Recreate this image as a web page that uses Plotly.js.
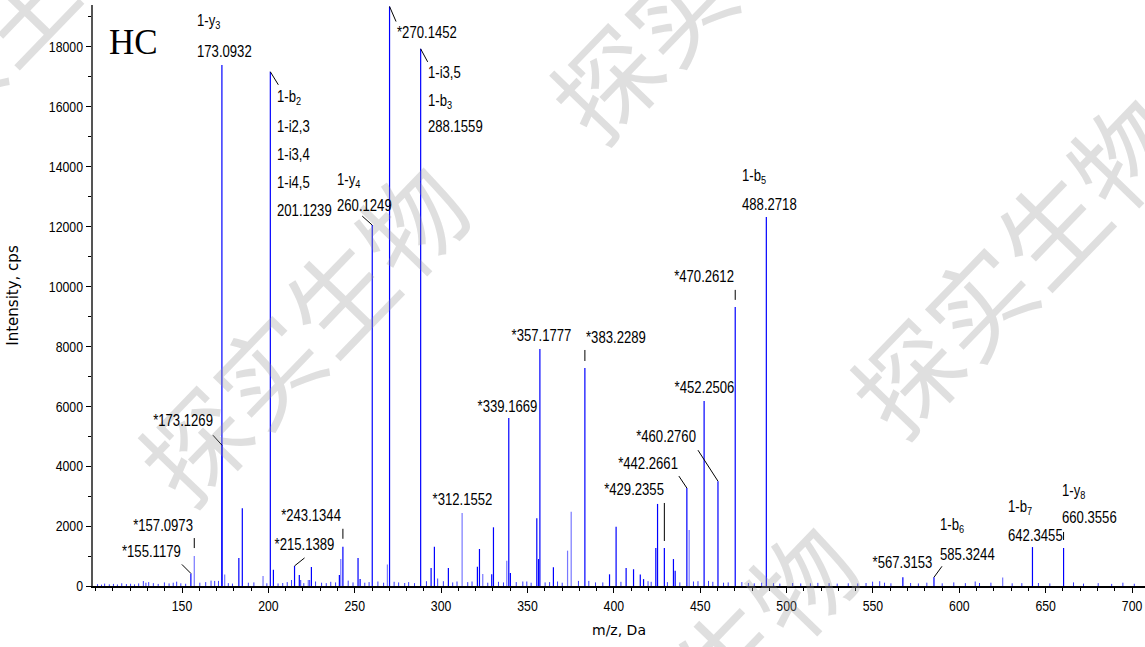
<!DOCTYPE html>
<html><head><meta charset="utf-8">
<script src="https://cdn.plot.ly/plotly-3.0.1.min.js"></script>
<style>html,body{margin:0;padding:0;background:#fff}#chart{width:1145px;height:647px}</style>
</head><body><div id="chart"></div>
<script>
// ---- data ----
const strongMz  = [155.1179,173.0932,173.1269,182.9,184.9,201.1239,202.9,215.1389,217.9,224.9,241.1,243.1344,251.9,253.1,260.1249,270.1452,288.1559,294.2,296.1,304.2,321.0,322.2,329.3,330.3,339.1669,340.1,355.4,356.4,357.1777,365.0,383.2289,397.5,401.3,407.1,411.4,415.3,417.2,424.3,425.3,429.2355,434.5,435.5,442.2661,452.2506,460.2760,470.2612,488.2718,567.3153,585.3244,642.3455,660.3556];
const strongInt = [420,17400,4700,935,2600,17170,540,670,370,635,370,1310,935,230,12050,19350,17935,600,1310,600,645,1235,390,1960,5610,430,2260,900,7915,630,7280,390,1980,600,560,380,230,1270,2740,1270,900,510,3270,6180,3500,9320,12325,290,290,1300,1270];
const lightMz  = [157.0973,174.7,196.9,223.1,241.9,268.9,312.1552,324.1,338.0,373.2,375.3,443.6,625.1];
const lightInt = [1000,380,330,200,900,720,2440,400,845,1180,2480,1870,280];
const noiseMz = [
 101.1,103.4,105.2,107.9,110.3,112.6,115.1,117.8,120.2,122.5,
 124.9,127.6,129.1,130.7,133.4,136.2,139.8,142.5,144.9,146.9,
 149.3,152.1,160.3,163.7,166.8,168.9,171.1,176.8,179.2,188.4,
 191.6,199.1,205.6,208.3,210.9,213.4,218.7,220.5,223.9,227.3,
 230.8,233.5,236.1,238.9,246.2,249.0,255.8,258.3,263.4,266.7,
 272.8,275.4,278.9,281.2,284.6,291.5,298.0,301.3,306.7,309.2,
 315.4,317.9,327.0,333.2,336.1,343.5,347.3,349.6,352.1,360.2,
 362.8,367.4,370.1,379.5,385.5,389.4,393.6,404.1,419.8,421.6,
 431.0,438.2,446.1,448.7,454.8,457.3,463.5,466.2,474.1,477.9,
 481.3,485.6,492.4,496.1,503.5,508.2,513.8,518.1,524.6,529.3,
 535.7,541.2,546.0,549.8,553.9,556.7,560.4,571.8,576.3,581.2,
 590.1,596.8,603.5,609.2,611.7,618.3,630.6,636.2,645.8,652.4,
 666.1,671.9,680.4,688.2,694.7,701.3];
const noiseInt = [
 60,45,80,55,70,50,90,65,75,55,
 85,165,110,130,95,70,120,85,110,145,
 90,75,110,130,180,170,170,95,80,110,
 120,90,85,100,130,200,200,95,200,150,
 110,95,140,120,180,120,110,130,150,110,
 140,120,100,130,95,160,250,160,120,150,
 130,150,110,140,120,130,150,150,110,120,
 130,150,110,170,170,120,120,140,160,140,
 130,120,150,160,170,140,110,120,130,100,
 90,110,95,80,100,85,90,105,95,80,
 90,85,100,145,160,110,90,100,85,110,
 90,120,95,150,100,110,90,95,100,85,
 120,80,95,70,110,75];

const labelMz  = [173.0932,201.1239,260.1249,270.1452,288.1559,488.2718,470.2612,452.2506,460.2760,442.2661,429.2355,357.1777,383.2289,339.1669,312.1552,243.1344,215.1389,173.1269,157.0973,155.1179,567.3153,585.3244,642.3455,660.3556];
const labelInt = [17400,17170,12050,19350,17935,12325,9320,6180,3500,3270,1270,7915,7280,5610,2440,1310,670,4700,1000,420,290,290,1300,1270];
const labelLines = [
 ['1-y<sub>3</sub>','173.0932'],
 ['1-b<sub>2</sub>','1-i2,3','1-i3,4','1-i4,5','201.1239'],
 ['1-y<sub>4</sub>','260.1249'],
 ['*270.1452'],
 ['1-i3,5','1-b<sub>3</sub>','288.1559'],
 ['1-b<sub>5</sub>','488.2718'],
 ['*470.2612'],
 ['*452.2506'],
 ['*460.2760'],
 ['*442.2661'],
 ['*429.2355'],
 ['*357.1777'],
 ['*383.2289'],
 ['*339.1669'],
 ['*312.1552'],
 ['*243.1344'],
 ['*215.1389'],
 ['*173.1269'],
 ['*157.0973'],
 ['*155.1179'],
 ['*567.3153'],
 ['1-b<sub>6</sub>','585.3244'],
 ['1-b<sub>7</sub>','642.3455'],
 ['1-y<sub>8</sub>','660.3556']
];
const xTickVals = [150,200,250,300,350,400,450,500,550,600,650,700];
const yTickVals = [0,2000,4000,6000,8000,10000,12000,14000,16000,18000];
const panelLabel = 'HC';
const xTitle = 'm/z, Da';
const yTitle = 'Intensity, cps';
const watermarkText = '探实生物';

// ---- layout helpers (positions / styles) ----
const L = 93, R = 1145, T = 5, B = 586;
const xRange = [98.46, 707.5];
const yRange = [0, 19400];
const pxPerMz = (R - L) / (xRange[1] - xRange[0]);
const px = x => (x - L) / (R - L);
const py = y => (B - y) / (B - T);
const NARROW = 0.82;

// per-label placement: anchor, dx (px), dy per line (px, up positive), leader [x0,y0,x1,y1] px up-positive
const labelPlace = [
 {a:'left',  dx:-27, dy:[43,13]},
 {a:'left',  dx:5,   dy:[-26,-55,-83,-111,-139], lead:[0,0,8,-13]},
 {a:'left',  dx:-37, dy:[45,20], lead:[-10,9,0,0]},
 {a:'left',  dx:5.5, dy:[-26], lead:[0,0,6.5,-15]},
 {a:'left',  dx:5,   dy:[-24,-53,-78], lead:[0,0,7,-13]},
 {a:'left',  dx:-26, dy:[40,12]},
 {a:'right', dx:1,   dy:[30], lead:[0,7,0,17]},
 {a:'center',dx:0,   dy:[13]},
 {a:'right', dx:-20, dy:[45], lead:[0,0,-20,31]},
 {a:'right', dx:-7,  dy:[25], lead:[0,0,-8,12]},
 {a:'right', dx:2,   dy:[58], lead:[0,7,0,45]},
 {a:'center',dx:2,   dy:[13]},
 {a:'left',  dx:-1,  dy:[30], lead:[0,7,0,18]},
 {a:'center',dx:-1,  dy:[11]},
 {a:'center',dx:0,   dy:[13]},
 {a:'right', dx:0,   dy:[31], lead:[0,8,0,18]},
 {a:'center',dx:10,  dy:[21], lead:[0,0,10,8]},
 {a:'right', dx:-7,  dy:[25], lead:[0,0,-9,10]},
 {a:'right', dx:1,   dy:[31], lead:[0,8,0,18]},
 {a:'right', dx:-8,  dy:[22], lead:[0,0,-9,9]},
 {a:'center',dx:0,   dy:[15]},
 {a:'left',  dx:4,   dy:[52,23], lead:[0,0,8,11]},
 {a:'left',  dx:-26, dy:[40,12]},
 {a:'left',  dx:-4,  dy:[56,30], lead:[0,8,0,16]}
];
const wmCenters = [[300,330],[1012,262],[712,-32],[690,690],[-20,40]];

function sticks(mz, it) {
  const x = [], y = [];
  mz.forEach((m, i) => { x.push(m, m, null); y.push(0, it[i], null); });
  return {x, y};
}
const sNoise = sticks(noiseMz, noiseInt);
const sLight = sticks(lightMz, lightInt);
const sStrong = sticks(strongMz, strongInt);

const sans = '"Liberation Sans", Arial, sans-serif';

const traces = [
  {type:'scatter', mode:'lines', x:sNoise.x, y:sNoise.y, line:{color:'#3a3aff', width:1}, hoverinfo:'skip', showlegend:false},
  {type:'scatter', mode:'lines', x:sLight.x, y:sLight.y, line:{color:'#7878ff', width:1.2}, hoverinfo:'skip', showlegend:false},
  {type:'scatter', mode:'lines', x:sStrong.x, y:sStrong.y, line:{color:'#0000ff', width:1.2}, hoverinfo:'skip', showlegend:false},
  {type:'scatter', mode:'markers', x:[xRange[0] - 4 / pxPerMz], y:[yRange[0]], cliponaxis:false,
   marker:{symbol:'triangle-right', size:15, color:'#0000ff', line:{color:'#000033', width:1}}, hoverinfo:'skip', showlegend:false}
];

const annotations = [];
const annCondense = [];
const shapes = [];
wmCenters.forEach(c => {
  annotations.push({xref:'paper', yref:'paper', x:px(c[0]), y:py(c[1]), text:watermarkText, showarrow:false,
    textangle:-46, xanchor:'center', yanchor:'middle',
    font:{family:'"Noto Sans CJK SC", sans-serif', size:104, color:'rgba(150,150,150,0.30)'}});
  annCondense.push(null);
});
labelMz.forEach((m, i) => {
  const p = labelPlace[i];
  labelLines[i].forEach((t, k) => {
    annotations.push({xref:'x', yref:'y', x:m, y:labelInt[i], text:t, showarrow:false,
      xanchor:p.a, yanchor:'middle', xshift:p.dx, yshift:p.dy[k],
      font:{family:sans, size:16, color:'#000'}});
    annCondense.push(p.a);
  });
  if (p.lead) {
    shapes.push({type:'line', xref:'x', yref:'y', xsizemode:'pixel', ysizemode:'pixel',
      xanchor:m, yanchor:labelInt[i], x0:p.lead[0], y0:p.lead[1], x1:p.lead[2], y1:p.lead[3],
      line:{color:'#000', width:1}});
  }
});
annotations.push({xref:'paper', yref:'paper', x:px(133), y:py(42), text:panelLabel, showarrow:false,
  xanchor:'center', yanchor:'middle', font:{family:'"Liberation Serif", "Times New Roman", serif', size:35, color:'#000'}});
annCondense.push(null);

const layout = {
  width:1145, height:647,
  margin:{l:L, r:1145 - R, t:T, b:647 - B, pad:0},
  paper_bgcolor:'#fff', plot_bgcolor:'#fff',
  showlegend:false,
  xaxis:{range:xRange, showgrid:false, zeroline:false, showline:true, linecolor:'#000', linewidth:2,
    ticks:'outside', ticklen:5, tickwidth:1, tickcolor:'#000', tickvals:xTickVals, ticktext:xTickVals.map(String),
    minor:{dtick:10, ticks:'outside', ticklen:3, tickcolor:'#000', showgrid:false},
    tickfont:{family:sans, size:15, color:'#000'},
    title:{text:xTitle, standoff:12, font:{family:'"DejaVu Sans", sans-serif', size:14, color:'#000'}}},
  yaxis:{range:yRange, showgrid:false, zeroline:false, showline:true, linecolor:'#555', linewidth:2,
    ticks:'outside', ticklen:5, tickwidth:1, tickcolor:'#000', tickvals:yTickVals, ticktext:yTickVals.map(String),
    minor:{dtick:1000, ticks:'outside', ticklen:3, tickcolor:'#000', showgrid:false},
    tickfont:{family:sans, size:15, color:'#000'},
    title:{text:yTitle, standoff:19, font:{family:'"DejaVu Sans", sans-serif', size:15, color:'#000'}}},
  annotations, shapes
};

// horizontally condense a text element (Arial Narrow look) around an anchor edge
function condense(el, mode) {
  const bb = el.getBBox();
  const ax = mode === 'left' ? bb.x : (mode === 'right' ? bb.x + bb.width : bb.x + bb.width / 2);
  const prev = el.getAttribute('transform') || '';
  el.setAttribute('transform', prev + ' translate(' + ax + ',0) scale(' + NARROW + ',1) translate(' + (-ax) + ',0)');
}

Plotly.newPlot('chart', traces, layout, {staticPlot:true, displayModeBar:false}).then(gd => {
  gd.querySelectorAll('g.annotation').forEach(g => {
    const idx = +g.getAttribute('data-index');
    const mode = annCondense[idx];
    if (!mode) return;
    const t = g.querySelector('text');
    if (t) condense(t, mode);
  });
  gd.querySelectorAll('g.xtick text').forEach(t => condense(t, 'center'));
  gd.querySelectorAll('g.ytick text').forEach(t => condense(t, 'right'));
});
</script></body></html>
